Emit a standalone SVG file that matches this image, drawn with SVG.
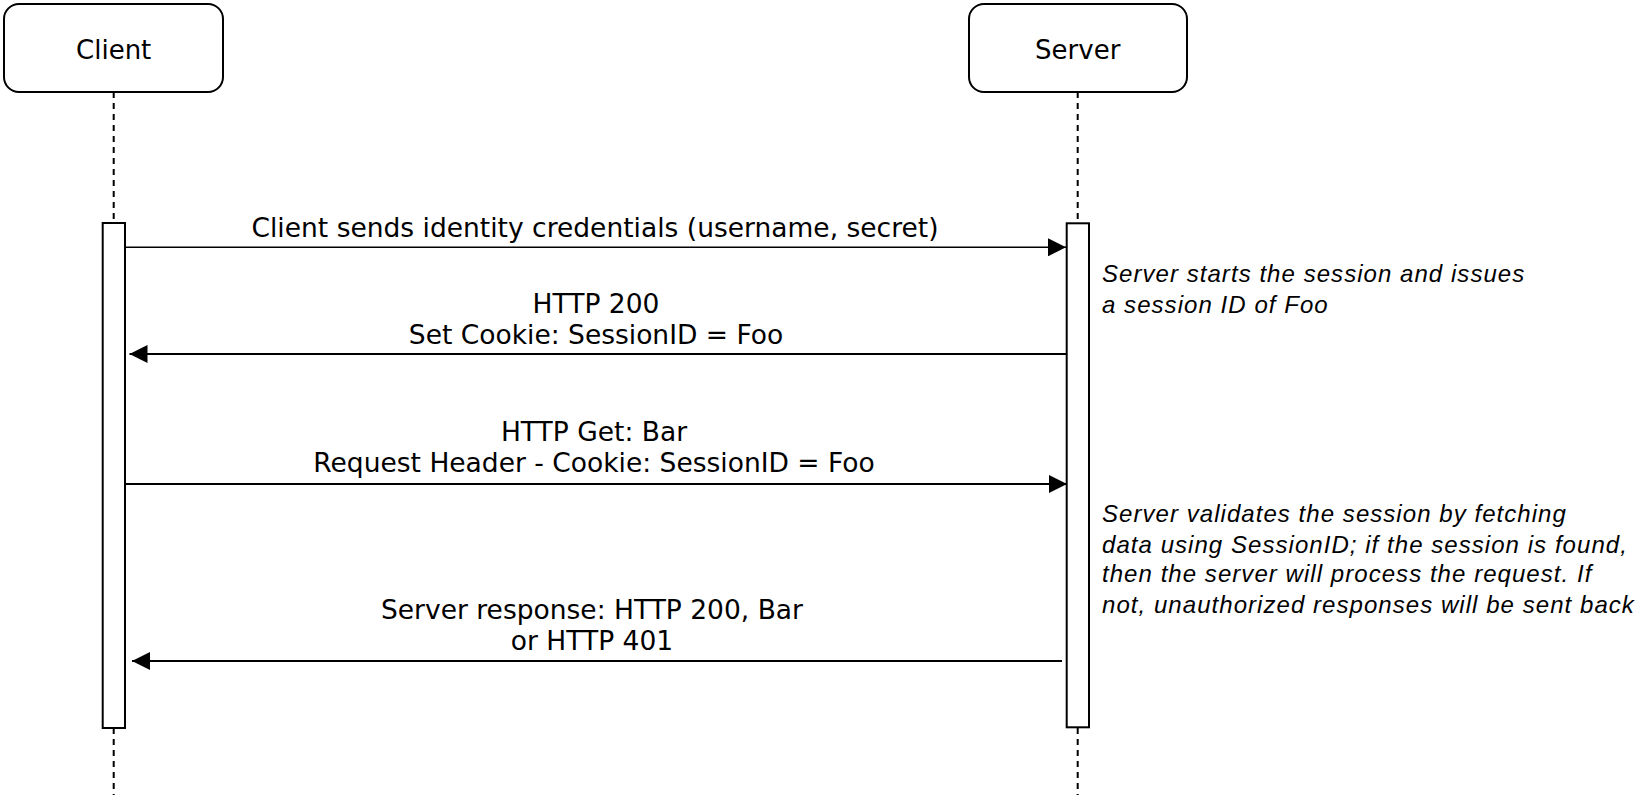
<svg xmlns="http://www.w3.org/2000/svg" width="1650" height="797" viewBox="0 0 1650 797">
<style>
.box{fill:#fff;stroke:#000;stroke-width:2}
.bar{fill:#fff;stroke:#000;stroke-width:2}
.life{stroke:#000;stroke-width:2;stroke-dasharray:6 5;fill:none}
.msg{stroke:#000;stroke-width:2;fill:none}
.title{font-family:"DejaVu Sans",Verdana,sans-serif;font-size:26px;fill:#000;text-anchor:middle}
.lbl{font-family:"DejaVu Sans",Verdana,sans-serif;font-size:26.5px;fill:#000;text-anchor:middle}
.note{font-family:"Liberation Sans",Arial,sans-serif;font-size:24px;font-style:italic;fill:#000;letter-spacing:1.05px}
</style>
<defs>
<marker id="ah" markerUnits="userSpaceOnUse" markerWidth="18" markerHeight="18" refX="18" refY="9" orient="auto">
<path d="M0,0 L18,9 L0,18 Z" fill="#000"/>
</marker>
</defs>
<rect width="1650" height="797" fill="#fff"/>
<g id="client">
<rect class="box" x="4" y="4" width="219" height="88" rx="15"/>
<text class="title" x="113.7" y="59">Client</text>
<line class="life" x1="113.7" y1="92" x2="113.7" y2="223"/>
<line class="life" x1="113.7" y1="728" x2="113.7" y2="795"/>
<rect class="bar" x="102.7" y="223" width="22.3" height="505"/>
</g>
<g id="server">
<rect class="box" x="969" y="4" width="218" height="88" rx="15"/>
<text class="title" x="1077.7" y="59">Server</text>
<line class="life" x1="1077.7" y1="92" x2="1077.7" y2="223"/>
<line class="life" x1="1077.7" y1="728" x2="1077.7" y2="795"/>
<rect class="bar" x="1066.7" y="223.3" width="22.3" height="504"/>
</g>
<g id="connectors">
<line class="msg" style="stroke-width:1.4" x1="125" y1="247.3" x2="1066" y2="247.3" marker-end="url(#ah)"/>
<line class="msg" x1="1067" y1="354" x2="129.5" y2="354" marker-end="url(#ah)"/>
<line class="msg" x1="124" y1="484" x2="1067" y2="484" marker-end="url(#ah)"/>
<line class="msg" x1="1062" y1="661" x2="132" y2="661" marker-end="url(#ah)"/>
</g>
<g id="labels">
<text class="lbl" x="595" y="236.7">Client sends identity credentials (username, secret)</text>
<text class="lbl" x="596" y="313">HTTP 200</text>
<text class="lbl" x="596" y="343.5">Set Cookie: SessionID = Foo</text>
<text class="lbl" x="594" y="441">HTTP Get: Bar</text>
<text class="lbl" x="594" y="471.7">Request Header - Cookie: SessionID = Foo</text>
<text class="lbl" x="592" y="619.3">Server response: HTTP 200, Bar</text>
<text class="lbl" x="592" y="649.5">or HTTP 401</text>
</g>
<g id="notes">
<text class="note" x="1102" y="282.3">Server starts the session and issues</text>
<text class="note" x="1102" y="313.3">a session ID of Foo</text>
<text class="note" x="1102" y="521.7">Server validates the session by fetching</text>
<text class="note" x="1102" y="552.7">data using SessionID; if the session is found,</text>
<text class="note" x="1102" y="582">then the server will process the request. If</text>
<text class="note" x="1102" y="613.3">not, unauthorized responses will be sent back</text>
</g>
</svg>
